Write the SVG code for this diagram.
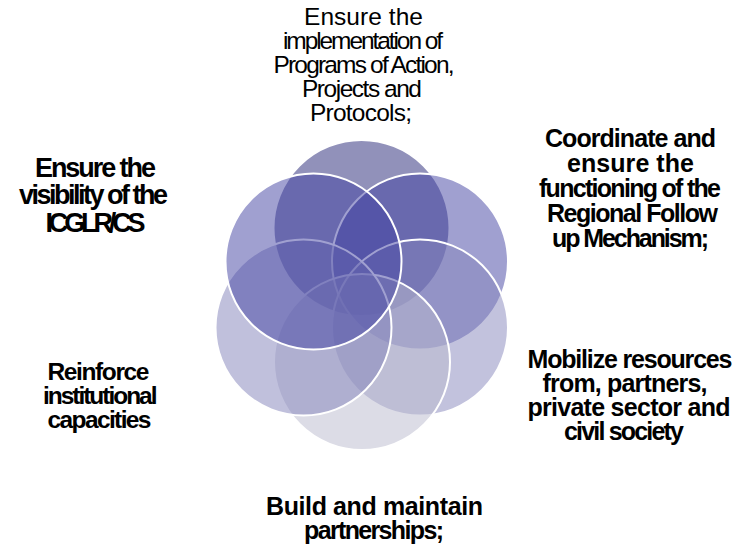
<svg xmlns="http://www.w3.org/2000/svg" width="736" height="555" viewBox="0 0 736 555">
<style>
.c{stroke:#ffffff;stroke-width:2;fill-opacity:0.5}
.t{font-family:"Liberation Sans Narrow","Liberation Sans",Arial,sans-serif;fill:#000000}
.r{font-size:24.5px;font-weight:normal}
.b{font-size:25px;font-weight:bold}
.bl{font-size:27px;font-weight:bold}
</style>
<rect width="736" height="555" fill="#ffffff"/>
<g id="node-implementation">
<circle class="c" cx="361.5" cy="228" r="88" fill="#232375"/>
<text class="t r" lengthAdjust="spacingAndGlyphs">
<tspan x="304" y="25" textLength="119">Ensure the</tspan>
<tspan x="283" y="49" textLength="160">implementation of</tspan>
<tspan x="273.5" y="73" textLength="181">Programs of Action,</tspan>
<tspan x="302" y="97" textLength="120">Projects and</tspan>
<tspan x="310" y="121" textLength="102">Protocols;</tspan>
</text>
</g>
<g id="node-coordinate">
<circle class="c" cx="420" cy="261.5" r="88" fill="#4141a1"/>
<text class="t b" lengthAdjust="spacingAndGlyphs">
<tspan x="545" y="147" textLength="171">Coordinate and</tspan>
<tspan x="567" y="172" textLength="127">ensure the</tspan>
<tspan x="539" y="197" textLength="182">functioning of the</tspan>
<tspan x="547" y="222" textLength="171">Regional Follow</tspan>
<tspan x="552" y="247" textLength="157">up Mechanism;</tspan>
</text>
</g>
<g id="node-mobilize">
<circle class="c" cx="420" cy="327.5" r="88" fill="#8585bb"/>
<text class="t b" lengthAdjust="spacingAndGlyphs">
<tspan x="527.5" y="367.5" textLength="205">Mobilize resources</tspan>
<tspan x="542.5" y="392" textLength="165">from, partners,</tspan>
<tspan x="527.5" y="416" textLength="203">private sector and</tspan>
<tspan x="564" y="440" textLength="120">civil society</tspan>
</text>
</g>
<g id="node-partnerships">
<circle class="c" cx="362" cy="362" r="88" fill="#b9b9cd"/>
<text class="t b" lengthAdjust="spacingAndGlyphs">
<tspan x="266" y="515" textLength="217">Build and maintain</tspan>
<tspan x="304" y="538.5" textLength="140">partnerships;</tspan>
</text>
</g>
<g id="node-capacities">
<circle class="c" cx="303.5" cy="327.5" r="88" fill="#8181b9"/>
<text class="t b" lengthAdjust="spacingAndGlyphs" style="font-size:24.5px">
<tspan x="47.5" y="379.5" textLength="102">Reinforce</tspan>
<tspan x="43" y="403.5" textLength="114.5">institutional</tspan>
<tspan x="47.5" y="427.5" textLength="104">capacities</tspan>
</text>
</g>
<g id="node-visibility">
<circle class="c" cx="313.5" cy="261.5" r="88" fill="#4141a1"/>
<text class="t bl" lengthAdjust="spacingAndGlyphs">
<tspan x="35" y="177" textLength="121">Ensure the</tspan>
<tspan x="19" y="204" textLength="149">visibility of the</tspan>
<tspan x="45.5" y="231.5" textLength="100">ICGLR/CS</tspan>
</text>
</g>
</svg>
